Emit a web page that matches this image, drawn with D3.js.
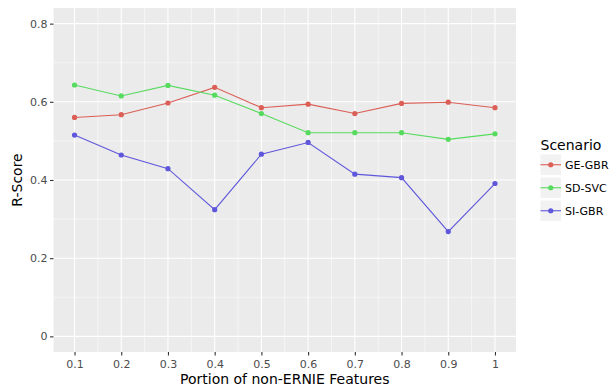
<!DOCTYPE html>
<html>
<head>
<meta charset="utf-8">
<script src="https://cdn.jsdelivr.net/npm/d3@7"></script>
<style>
  body { margin: 0; background: #fff; }
  svg { display: block; font-family: 'DejaVu Sans', sans-serif; }
</style>
</head>
<body>
<div id="chart"></div>
<script>
// values
const portions = [0.1, 0.2, 0.3, 0.4, 0.5, 0.6, 0.7, 0.8, 0.9, 1.0]
const scenarios = ['GE-GBR', 'SD-SVC', 'SI-GBR']
const geGbr = [0.560, 0.567, 0.597, 0.637, 0.585, 0.594, 0.570, 0.596, 0.599, 0.585]
const sdSvc = [0.643, 0.615, 0.642, 0.617, 0.570, 0.521, 0.521, 0.521, 0.504, 0.518]
const siGbr = [0.515, 0.464, 0.429, 0.324, 0.466, 0.496, 0.415, 0.406, 0.268, 0.391]
const yTicks = [0, 0.2, 0.4, 0.6, 0.8]
const yMinor = [0.1, 0.3, 0.5, 0.7]
const colors = ['#DB5F57', '#57DB5F', '#5F57DB']

const width = 609
const height = 387
const panel = { left: 53.5, top: 8, right: 516, bottom: 352 }

const series = scenarios.map((name, i) => ({
  name,
  color: colors[i],
  values: [geGbr, sdSvc, siGbr][i].map((v, j) => ({ x: portions[j], y: v }))
}))

const svg = d3.select('#chart').append('svg')
  .attr('width', width)
  .attr('height', height)

// ggplot style 5% expansion on both axes
const x = d3.scaleLinear().domain([0.055, 1.045]).range([panel.left, panel.right])
const y = d3.scaleLinear().domain([-0.04, 0.84]).range([panel.bottom, panel.top])

svg.append('rect')
  .attr('x', panel.left)
  .attr('y', panel.top)
  .attr('width', panel.right - panel.left)
  .attr('height', panel.bottom - panel.top)
  .attr('fill', '#EBEBEB')

const xMinor = d3.range(0.05, 1.06, 0.1).map(d => +d.toFixed(2))
const grid = svg.append('g')

grid.selectAll('.xminor').data(xMinor).enter().append('line')
  .attr('x1', d => x(d)).attr('x2', d => x(d))
  .attr('y1', panel.top).attr('y2', panel.bottom)
  .attr('stroke', '#fff').attr('stroke-width', 0.55)
grid.selectAll('.yminor').data(yMinor).enter().append('line')
  .attr('y1', d => y(d)).attr('y2', d => y(d))
  .attr('x1', panel.left).attr('x2', panel.right)
  .attr('stroke', '#fff').attr('stroke-width', 0.55)
grid.selectAll('.xmajor').data(portions).enter().append('line')
  .attr('x1', d => x(d)).attr('x2', d => x(d))
  .attr('y1', panel.top).attr('y2', panel.bottom)
  .attr('stroke', '#fff').attr('stroke-width', 1.1)
grid.selectAll('.ymajor').data(yTicks).enter().append('line')
  .attr('y1', d => y(d)).attr('y2', d => y(d))
  .attr('x1', panel.left).attr('x2', panel.right)
  .attr('stroke', '#fff').attr('stroke-width', 1.1)

// axes
const xAxis = d3.axisBottom(x).tickValues(portions).tickSize(3.5).tickPadding(2.5)
  .tickFormat(d => d3.format('~g')(d))
const yAxis = d3.axisLeft(y).tickValues(yTicks).tickSize(3.5).tickPadding(2.5)
  .tickFormat(d => d3.format('~g')(d))

const gx = svg.append('g').attr('transform', `translate(0,${panel.bottom})`).call(xAxis)
const gy = svg.append('g').attr('transform', `translate(${panel.left},0)`).call(yAxis)
;[gx, gy].forEach(g => {
  g.select('.domain').remove()
  g.selectAll('.tick line').attr('stroke', '#333').attr('stroke-width', 1.1)
  g.selectAll('.tick text')
    .attr('fill', '#4D4D4D')
    .style('font-size', '11px')
    .style('font-family', 'DejaVu Sans')
})
gx.selectAll('.tick text').attr('dy', '0.95em')

svg.append('text')
  .attr('x', (panel.left + panel.right) / 2)
  .attr('y', 383.5)
  .attr('text-anchor', 'middle')
  .style('font-size', '14px')
  .text('Portion of non-ERNIE Features')

svg.append('text')
  .attr('transform', `translate(22,${(panel.top + panel.bottom) / 2}) rotate(-90)`)
  .attr('text-anchor', 'middle')
  .style('font-size', '14px')
  .text('R-Score')

// lines and points
const line = d3.line().x(d => x(d.x)).y(d => y(d.y))

const groups = svg.selectAll('.series').data(series).enter().append('g')
groups.append('path')
  .attr('d', d => line(d.values))
  .attr('fill', 'none')
  .attr('stroke', d => d.color)
  .attr('stroke-width', 1.1)
groups.selectAll('circle').data(d => d.values.map(v => ({ ...v, color: d.color }))).enter()
  .append('circle')
  .attr('cx', d => x(d.x))
  .attr('cy', d => y(d.y))
  .attr('r', 2.6)
  .attr('fill', d => d.color)

// legend
const legend = svg.append('g').attr('transform', 'translate(540.5,0)')
legend.append('text')
  .attr('x', 0).attr('y', 150)
  .style('font-size', '14px')
  .text('Scenario')

const keys = legend.selectAll('.key').data(series).enter().append('g')
  .attr('transform', (d, i) => `translate(0,${154.5 + i * 23})`)
keys.append('rect')
  .attr('width', 20.5).attr('height', 20.5)
  .attr('fill', '#F2F2F2')
keys.append('line')
  .attr('x1', 0).attr('x2', 20.5)
  .attr('y1', 10.25).attr('y2', 10.25)
  .attr('stroke', d => d.color).attr('stroke-width', 1.1)
keys.append('circle')
  .attr('cx', 10.25).attr('cy', 10.25).attr('r', 2.6)
  .attr('fill', d => d.color)
keys.append('text')
  .attr('x', 24.5).attr('y', 10.25)
  .attr('dy', '0.36em')
  .style('font-size', '11px')
  .text(d => d.name)
</script>
</body>
</html>
